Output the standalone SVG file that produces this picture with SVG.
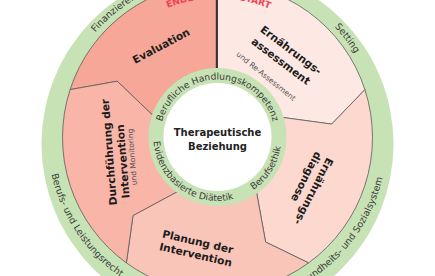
<svg xmlns="http://www.w3.org/2000/svg" xmlns:xlink="http://www.w3.org/1999/xlink" width="435" height="276" viewBox="0 0 435 276">
<style>
text{font-family:"DejaVu Sans","Liberation Sans",sans-serif;}
.seg{stroke:#5a5a5a;stroke-width:0.8;stroke-linejoin:round;}
.lbl{font-weight:bold;font-size:10.6px;fill:#1c1c1c;}
.sub{font-size:7.5px;fill:#555;}
.ring{font-size:9.2px;fill:#3a3a3a;}
.oring{font-size:9.4px;fill:#3a3a3a;}
.mark{font-size:9px;font-weight:bold;fill:#EE4452;}
.ctr{font-weight:bold;font-size:10px;fill:#222;text-anchor:middle;}
.green{fill:#C7E2B4;}
</style>
<defs>
<path id="inCW" d="M217.5,194.5 A57.5,57.5 0 1 1 217.5,79.5 A57.5,57.5 0 1 1 217.5,194.5"/>
<path id="inCCW" d="M217.5,73 A64,64 0 1 0 217.5,201 A64,64 0 1 0 217.5,73"/>
<path id="outCW" d="M217.5,298.5 A161,161 0 1 1 217.5,-23.5 A161,161 0 1 1 217.5,298.5"/>
<path id="outCCW" d="M217.5,-32.5 A170,170 0 1 0 217.5,307.5 A170,170 0 1 0 217.5,-32.5"/>
<path id="markCW" d="M217.5,276.5 A139,139 0 1 1 217.5,-1.5 A139,139 0 1 1 217.5,276.5"/>
</defs>
<rect width="435" height="276" fill="#fff"/>
<g id="outer-ring">
<circle class="green" cx="217.5" cy="144" r="176"/>
<text class="oring"><textPath xlink:href="#outCW" href="#outCW" startOffset="36.3%">Finanzierer</textPath></text>
<text class="oring" text-anchor="middle"><textPath xlink:href="#outCW" href="#outCW" startOffset="64.6%">Setting</textPath></text>
<text class="oring" text-anchor="middle"><textPath xlink:href="#outCCW" href="#outCCW" startOffset="34.4%">Berufs- und Leistungsrecht</textPath></text>
<text class="oring" text-anchor="middle"><textPath xlink:href="#outCCW" href="#outCCW" startOffset="64.3%">Gesundheits- und Sozialsystem</textPath></text>
</g>
<g id="evaluation">
<path class="seg" fill="#F6A798" d="M217.5,137.5 L154.7,117.1 L117.2,81.2 L70.1,89.6 A155,155 0 0 1 217.5,-17.5 Z"/>
<text class="lbl" transform="translate(135,64) rotate(-28)">Evaluation</text>
<text class="mark" text-anchor="middle"><textPath xlink:href="#markCW" href="#markCW" startOffset="45.7%">ENDE</textPath></text>
</g>
<g id="assessment">
<path class="seg" fill="#FDE8E3" d="M217.5,137.5 L217.5,-17.5 A155,155 0 0 1 364.9,89.6 L331.7,124.1 L280.3,117.1 Z"/>
<text class="lbl" transform="translate(259.5,31) rotate(37)"><tspan x="0" y="0">Ernährungs-</tspan><tspan x="0" y="15">assessment</tspan></text>
<text class="sub" transform="translate(235.7,54.9) rotate(39)">und Re-Assessment</text>
<text class="mark" text-anchor="middle"><textPath xlink:href="#markCW" href="#markCW" startOffset="54.3%">START</textPath></text>
</g>
<g id="diagnose">
<path class="seg" fill="#FCD8CF" d="M217.5,137.5 L280.3,117.1 L331.7,124.1 L364.9,89.6 A155,155 0 0 1 308.6,262.9 L265.6,242 L256.3,190.9 Z"/>
<text class="lbl" transform="translate(327,157) rotate(117)"><tspan x="0" y="0">Ernährungs-</tspan><tspan x="0" y="13">diagnose</tspan></text>
</g>
<g id="planung">
<path class="seg" fill="#FAC5B9" d="M217.5,137.5 L256.3,190.9 L265.6,242 L308.6,262.9 A155,155 0 0 1 126.4,262.9 L133,215.5 L178.7,190.9 Z"/>
<text class="lbl" transform="translate(161.7,237.3) rotate(13)"><tspan x="0" y="0">Planung der</tspan><tspan x="0" y="13">Intervention</tspan></text>
</g>
<g id="durchfuehrung">
<path class="seg" fill="#F8B5A8" d="M217.5,137.5 L178.7,190.9 L133,215.5 L126.4,262.9 A155,155 0 0 1 70.1,89.6 L117.2,81.2 L154.7,117.1 Z"/>
<g transform="translate(117,205) rotate(-94.5)">
<text class="lbl"><tspan x="0" y="0">Durchführung der</tspan><tspan x="6" y="13">Intervention</tspan></text>
<text class="sub" x="18.4" y="21.5">und Monitoring</text>
</g>
</g>
<g id="connectors">
<line x1="216.8" y1="-20" x2="216.8" y2="69" stroke="#333" stroke-width="2"/>
</g>
<g id="inner-ring">
<circle class="green" cx="217.5" cy="137" r="69"/>
<text class="ring" text-anchor="middle"><textPath xlink:href="#inCW" href="#inCW" startOffset="50%">Berufliche Handlungskompetenz</textPath></text>
<text class="ring" text-anchor="middle"><textPath xlink:href="#inCCW" href="#inCCW" startOffset="40.1%">Evidenzbasierte Diätetik</textPath></text>
<text class="ring" text-anchor="middle"><textPath xlink:href="#inCCW" href="#inCCW" startOffset="66%">Berufsethik</textPath></text>
</g>
<g id="center">
<circle cx="217.5" cy="137" r="54" fill="#fff"/>
<text class="ctr" x="217.5" y="136">Therapeutische</text>
<text class="ctr" x="217.5" y="149.5">Beziehung</text>
</g>
</svg>
